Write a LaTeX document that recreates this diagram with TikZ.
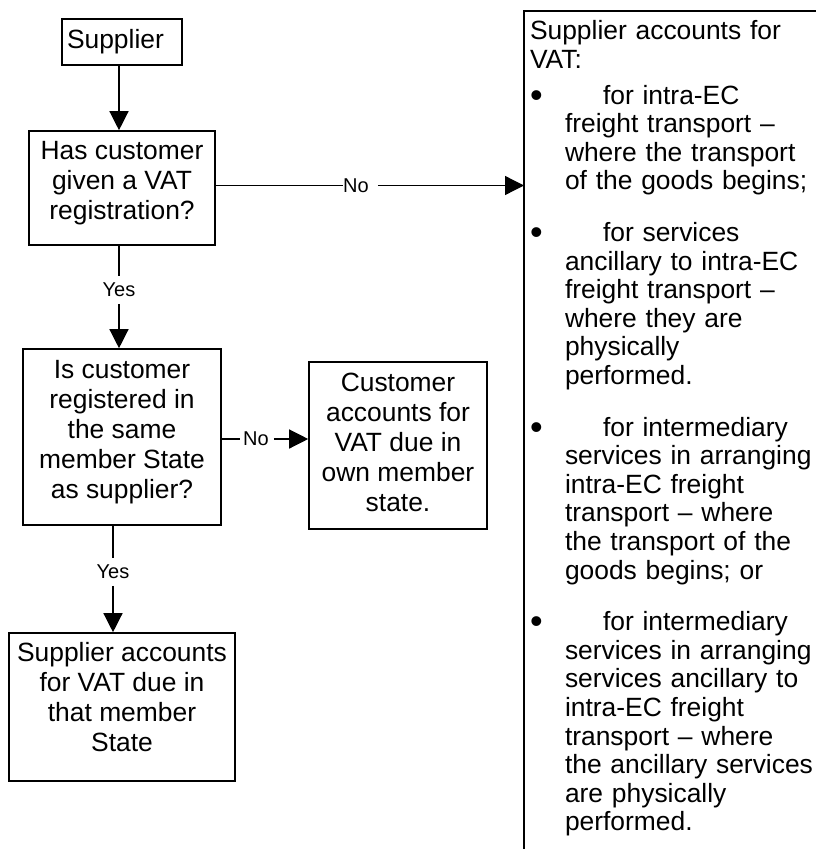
\documentclass[tikz,border=0pt]{standalone}
\usepackage{fontspec}
\setmainfont{Liberation Sans}
\usetikzlibrary{arrows.meta}

% extra depth under the last line, so the text sits near the top of its box
\newcommand{\sinkby}[1]{\rule[-#1]{0pt}{0pt}}
% large round bullet of the panel list
\newcommand{\panelbullet}{\raisebox{-3pt}{\fontsize{36}{28.6}\selectfont •}}
% one bulleted paragraph of the right-hand panel
\newcommand{\panelitem}{\par\hangindent=35pt\hangafter=1\noindent\makebox[73pt][l]{\panelbullet}}

\tikzset{
  boxline/.style={line width=1.6pt},
  stepbox/.style={draw, boxline, align=center, inner sep=0pt,
    font=\fontsize{26.4}{30}\selectfont},
  conn/.style={line width=1.3pt},
  arrowed/.style={-{Triangle[length=19pt,width=19pt]}},
  tag/.style={inner xsep=0pt, inner ysep=6.75pt, font=\fontsize{20}{24}\selectfont},
}

\begin{document}
\begin{tikzpicture}[x=1pt,y=-1pt]
\fill[white] (0,0) rectangle (815,849);
\useasboundingbox (0,0) rectangle (815,849);

% boxes of the decision chain
\node[stepbox, text width=110pt, align=left, inner xsep=5pt, minimum height=46pt] (sup) at (122,42) {Supplier};
\node[stepbox, minimum width=186pt, minimum height=114pt] (q1) at (122,188)
  {Has customer\\given a VAT\\registration?\sinkby{15.3pt}};
\node[stepbox, minimum width=198pt, minimum height=176pt] (q2) at (122,437)
  {Is customer\\registered in\\the same\\member State\\as supplier?\sinkby{15.3pt}};
\node[stepbox, minimum width=178pt, minimum height=167pt] (cust) at (398,445.5)
  {Customer\\accounts for\\VAT due in\\own member\\state.\sinkby{7.4pt}};
\node[stepbox, minimum width=226pt, minimum height=148pt] (sres) at (122,707)
  {Supplier accounts\\for VAT due in\\that member\\State\sinkby{19.4pt}};

% right-hand panel, running off the page to the right and bottom
\node[anchor=north west, inner xsep=6pt, inner ysep=9.7pt, outer sep=0pt, text width=285pt,
      font=\fontsize{26.4}{28.6}\selectfont] (panel) at (524,11) {%
  \parindent=0pt
  Supplier accounts for\newline VAT:\par\vspace{7pt}%
  \panelitem for intra-EC\newline freight transport –\newline where the transport\newline
    of the goods begins;\par\vspace{23pt}%
  \panelitem for services\newline ancillary to intra-EC\newline freight transport –\newline
    where they are\newline physically\newline performed.\par\vspace{23pt}%
  \panelitem for intermediary\newline services in arranging\newline intra-EC freight\newline
    transport – where\newline the transport of the\newline goods begins; or\par\vspace{23pt}%
  \panelitem for intermediary\newline services in arranging\newline services ancillary to\newline
    intra-EC freight\newline transport – where\newline the ancillary services\newline
    are physically\newline performed.\par};
\coordinate (far) at (840,870);
\draw[boxline] (panel.north west -| far) -- (panel.north west) -- (panel.north west |- far);

% connector labels
\node[tag] (yes1) at (119,290) {Yes};
\node[tag] (yes2) at (113,572) {Yes};
\node[tag, anchor=west] (no1) at (343,185.5) {No\kern9pt};
\node[tag, anchor=west] (no2) at (240,439) {\kern3pt No\kern5pt};

% connectors
\draw[conn, arrowed] (sup.south -| yes1) -- (q1.north -| yes1);
\draw[conn] (q1.south -| yes1) -- (yes1.north);
\draw[conn, arrowed] (yes1.south) -- (q2.north -| yes1);
\draw[conn] (q2.south -| yes2) -- (yes2.north);
\draw[conn, arrowed] (yes2.south) -- (sres.north -| yes2);
\draw[conn] (q1.east |- no1) -- (no1.west);
\draw[conn, arrowed] (no1.east) -- (no1.east -| panel.west);
\draw[conn] (q2.east |- no2) -- (no2.west);
\draw[conn, arrowed] (no2.east) -- (no2.east -| cust.west);
\end{tikzpicture}
\end{document}
